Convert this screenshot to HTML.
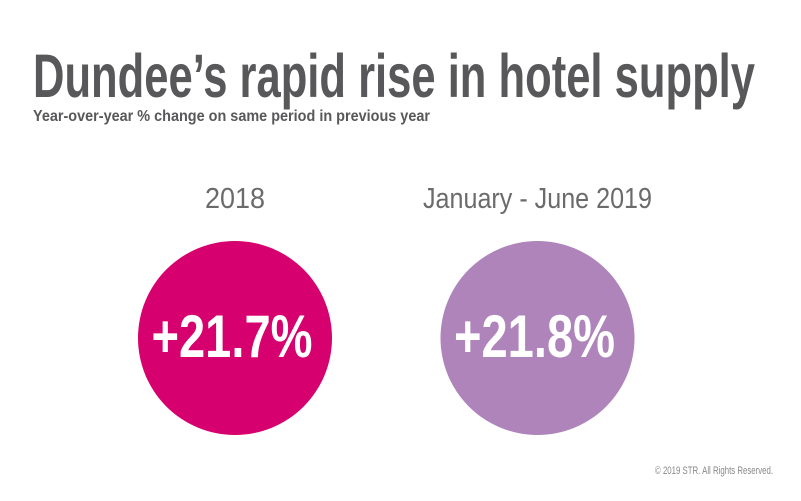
<!DOCTYPE html>
<html><head><meta charset="utf-8"><style>
html,body{margin:0;padding:0;background:#fff;}
svg{display:block;}
text{font-family:"Liberation Sans",sans-serif;}
</style></head><body>
<svg id="chart" width="801" height="501" viewBox="0 0 801 501" xmlns="http://www.w3.org/2000/svg">
<rect width="801" height="501" fill="#fff"/>
<text x="33" y="97" font-size="61" font-weight="bold" fill="#58585a" textLength="722" lengthAdjust="spacingAndGlyphs">Dundee’s rapid rise in hotel supply</text>
<text x="33" y="121" font-size="16" font-weight="bold" fill="#58585a" textLength="397" lengthAdjust="spacingAndGlyphs">Year-over-year % change on same period in previous year</text>
<g id="marks"></g>
<text x="655" y="474" font-size="11" fill="#888" textLength="118" lengthAdjust="spacingAndGlyphs">© 2019 STR. All Rights Reserved.</text>
</svg>
<script>
const periods = ["2018", "January - June 2019"];
const values = [21.7, 21.8];
const colors = ["#d6006e", "#ae84bb"];

const NS = "http://www.w3.org/2000/svg";
const g = document.getElementById("marks");
const centersX = [235, 537.5];
const labelW = [60, 229];
const cy = 338, r = 97;
function mk(tag, attrs){const e=document.createElementNS(NS,tag);for(const k in attrs)e.setAttribute(k,attrs[k]);return e;}
periods.forEach((p,i)=>{
  const cx = centersX[i];
  const lbl = mk("text",{x:cx,y:208,"font-size":29,fill:"#6b6b6b","text-anchor":"middle",textLength:labelW[i],lengthAdjust:"spacingAndGlyphs"});
  lbl.textContent = p;
  
  
  g.appendChild(lbl);
  const c = mk("circle",{cx:cx,cy:cy,r:r,fill:colors[i]});
  
  
  g.appendChild(c);
  const v = mk("text",{x:cx-3,y:357,"font-size":60,"font-weight":"bold",fill:"#fff","text-anchor":"middle",textLength:161,lengthAdjust:"spacingAndGlyphs"});
  v.textContent = "+" + values[i].toFixed(1) + "%";
  
  
  g.appendChild(v);
});
</script>
</body></html>
